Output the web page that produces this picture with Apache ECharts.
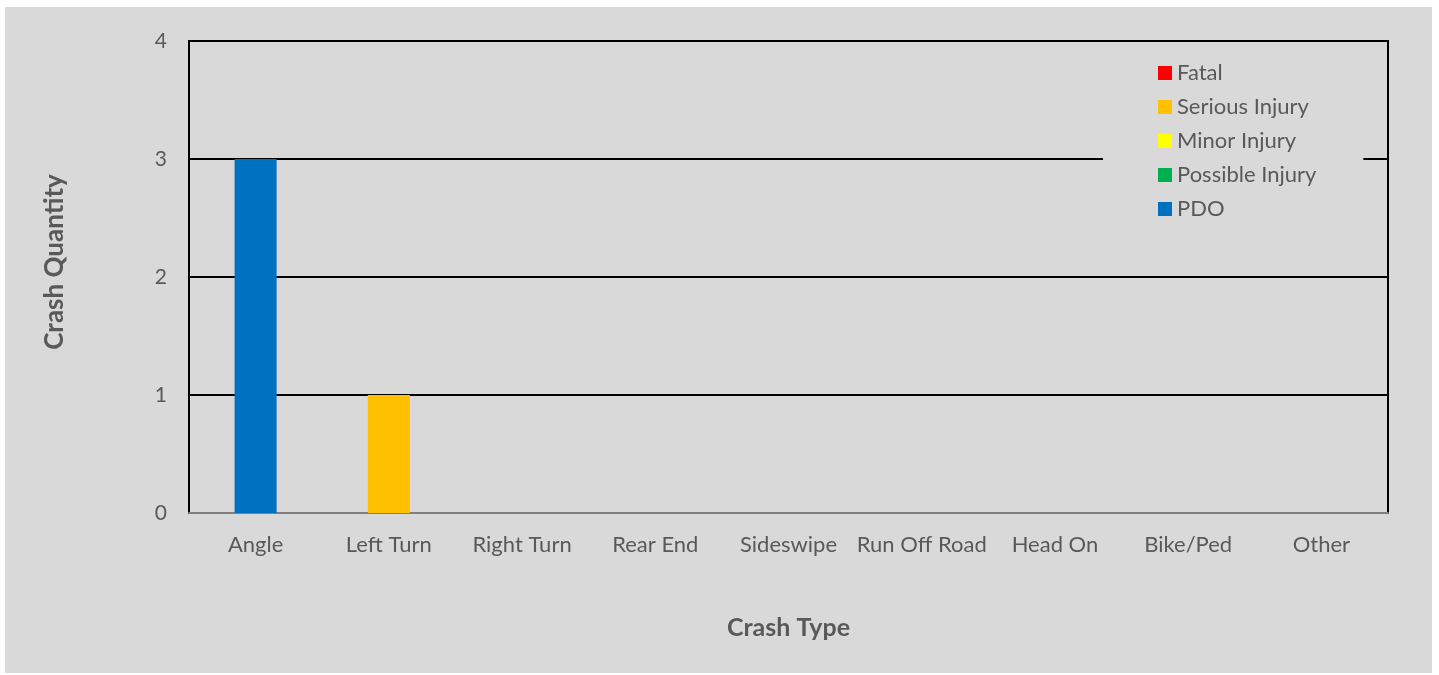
<!DOCTYPE html>
<html>
<head>
<meta charset="utf-8">
<style>
  html, body { margin: 0; padding: 0; background: #ffffff; width: 1439px; height: 675px; overflow: hidden; }
  #chart { position: absolute; left: 5px; top: 7px; width: 1427px; height: 666px; }
</style>
<script src="https://cdn.jsdelivr.net/npm/echarts@6/dist/echarts.min.js"></script>
</head>
<body>
<div id="chart"></div>
<script>
// Crash counts by type and severity
const categories = ['Angle', 'Left Turn', 'Right Turn', 'Rear End', 'Sideswipe', 'Run Off Road', 'Head On', 'Bike/Ped', 'Other'];
const fatal          = [0, 0, 0, 0, 0, 0, 0, 0, 0];
const seriousInjury  = [0, 1, 0, 0, 0, 0, 0, 0, 0];
const minorInjury    = [0, 0, 0, 0, 0, 0, 0, 0, 0];
const possibleInjury = [0, 0, 0, 0, 0, 0, 0, 0, 0];
const pdo            = [3, 0, 0, 0, 0, 0, 0, 0, 0];
const yTicks = [0, 1, 2, 3, 4];

const FONT = 'Lato, "Open Sans", sans-serif';
const TEXT = '#595959';

const seriesDefs = [
  { name: 'Fatal', data: fatal, color: '#ff0000' },
  { name: 'Serious Injury', data: seriousInjury, color: '#ffc000' },
  { name: 'Minor Injury', data: minorInjury, color: '#ffff00' },
  { name: 'Possible Injury', data: possibleInjury, color: '#00b050' },
  { name: 'PDO', data: pdo, color: '#0070c0' }
];

const chart = echarts.init(document.getElementById('chart'), null, { renderer: 'canvas' });

chart.setOption({
  backgroundColor: '#d9d9d9',
  animation: false,
  textStyle: { fontFamily: FONT },
  grid: {
    left: 184, top: 34, right: 44, bottom: 160,
    show: true, borderColor: '#000000', borderWidth: 2, backgroundColor: 'transparent'
  },
  legend: {
    orient: 'vertical',
    left: 1098,
    top: 45,
    padding: [10, 47, 14, 55],
    backgroundColor: '#d9d9d9',
    itemWidth: 14,
    itemHeight: 14,
    itemGap: 12,
    icon: 'rect',
    textStyle: { color: TEXT, fontSize: 22, lineHeight: 20, fontFamily: FONT },
    data: seriesDefs.map(s => s.name)
  },
  xAxis: {
    type: 'category',
    data: categories,
    name: 'Crash Type',
    nameLocation: 'middle',
    nameGap: 102,
    nameTextStyle: { color: TEXT, fontSize: 25, fontWeight: 'bold', fontFamily: FONT },
    axisLine: { show: true, lineStyle: { color: '#7f7f7f', width: 2 } },
    axisTick: { show: false },
    axisLabel: { color: TEXT, fontSize: 22, margin: 21, fontFamily: FONT, interval: 0 }
  },
  yAxis: {
    type: 'value',
    min: yTicks[0],
    max: yTicks[yTicks.length - 1],
    interval: 1,
    name: 'Crash Quantity',
    nameLocation: 'middle',
    nameRotate: 90,
    nameGap: 121,
    nameTextStyle: { color: TEXT, fontSize: 26, fontWeight: 'bold', fontFamily: FONT, padding: [0, 0, 0, 30] },
    axisLine: { show: true, lineStyle: { color: '#000000', width: 2 } },
    axisTick: { show: false },
    axisLabel: { color: TEXT, fontSize: 21, margin: 22, fontFamily: FONT },
    splitLine: { show: true, lineStyle: { color: '#000000', width: 2 } }
  },
  series: seriesDefs.map(s => ({
    name: s.name,
    type: 'bar',
    stack: 'crashes',
    barWidth: 42,
    data: s.data,
    itemStyle: { color: s.color },
    emphasis: { disabled: true }
  }))
});
</script>
</body>
</html>
